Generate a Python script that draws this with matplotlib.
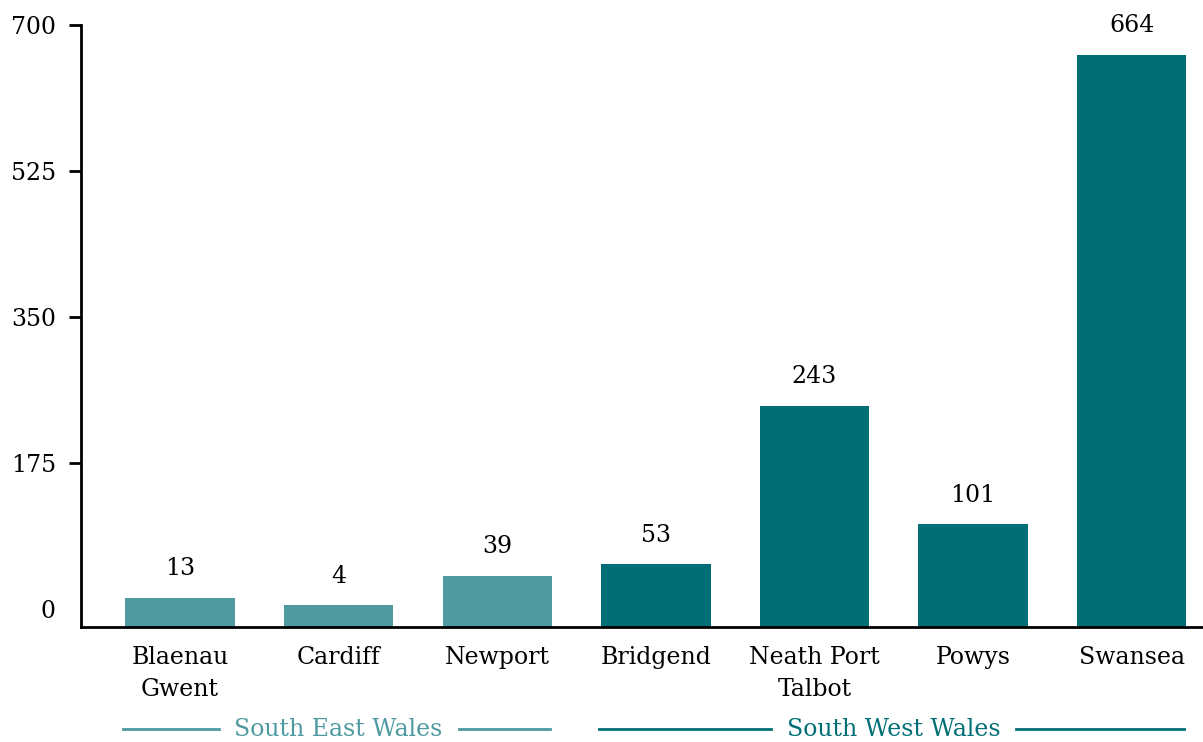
import numpy as np
import matplotlib.pyplot as plt
import matplotlib.transforms as mtransforms

# council areas and values
areas = ["Blaenau\nGwent", "Cardiff", "Newport", "Bridgend", "Neath Port\nTalbot", "Powys", "Swansea"]
values = [13, 4, 39, 53, 243, 101, 664]
regions = ["South East Wales", "South West Wales"]
region_of = [0, 0, 0, 1, 1, 1, 1]
region_colors = ["#4e9aa0", "#006f75"]

yticks = [0, 175, 350, 525, 700]
y0 = -22  # axis floor sits a little below zero

plt.rcParams['font.family'] = ['DejaVu Serif']

fig = plt.figure(figsize=(12.03, 7.42), dpi=100)
ax = fig.add_axes([0.0673, 0.155, 0.9327, 0.8113])

x = np.arange(len(areas))
cols = [region_colors[r] for r in region_of]
heights = [v - y0 for v in values]
bars = ax.bar(x, heights, bottom=y0, width=0.69, color=cols)

for xi, v in zip(x, values):
    ax.annotate(str(v), (xi, v), xytext=(0, 21), textcoords="offset points",
                ha="center", va="center", fontsize=17)

ax.set_xlim(-0.625, 6.45)
ax.set_ylim(y0, 700)
ax.set_yticks(yticks)
ax.set_yticklabels([str(t) for t in yticks], fontsize=17)
ax.set_xticks(x)
ax.set_xticklabels(areas, fontsize=17, linespacing=1.45)
ax.tick_params(axis="x", length=0, pad=14)
ax.tick_params(axis="y", length=9, width=2, pad=9)
ax.yaxis.get_major_ticks()[0].tick1line.set_visible(False)

for s in ["top", "right"]:
    ax.spines[s].set_visible(False)
for s in ["left", "bottom"]:
    ax.spines[s].set_linewidth(2)

# region brackets under the axis
trans = mtransforms.blended_transform_factory(ax.transData, fig.transFigure)
for r, name in enumerate(regions):
    idx = [i for i, g in enumerate(region_of) if g == r]
    left = idx[0] - 0.36
    right = idx[-1] + 0.33
    mid = (idx[0] + idx[-1]) / 2
    txt = ax.text(mid, 0.017, name, transform=trans, ha="center", va="center",
                  fontsize=17, color=region_colors[r])
    fig.canvas.draw()
    bb = txt.get_window_extent().transformed(ax.transData.inverted())
    gap = 0.1
    ax.plot([left, bb.x0 - gap], [0.017, 0.017], transform=trans, color=region_colors[r],
            lw=2, clip_on=False)
    ax.plot([bb.x1 + gap, right], [0.017, 0.017], transform=trans, color=region_colors[r],
            lw=2, clip_on=False)

fig.savefig("out.png", dpi=100)
